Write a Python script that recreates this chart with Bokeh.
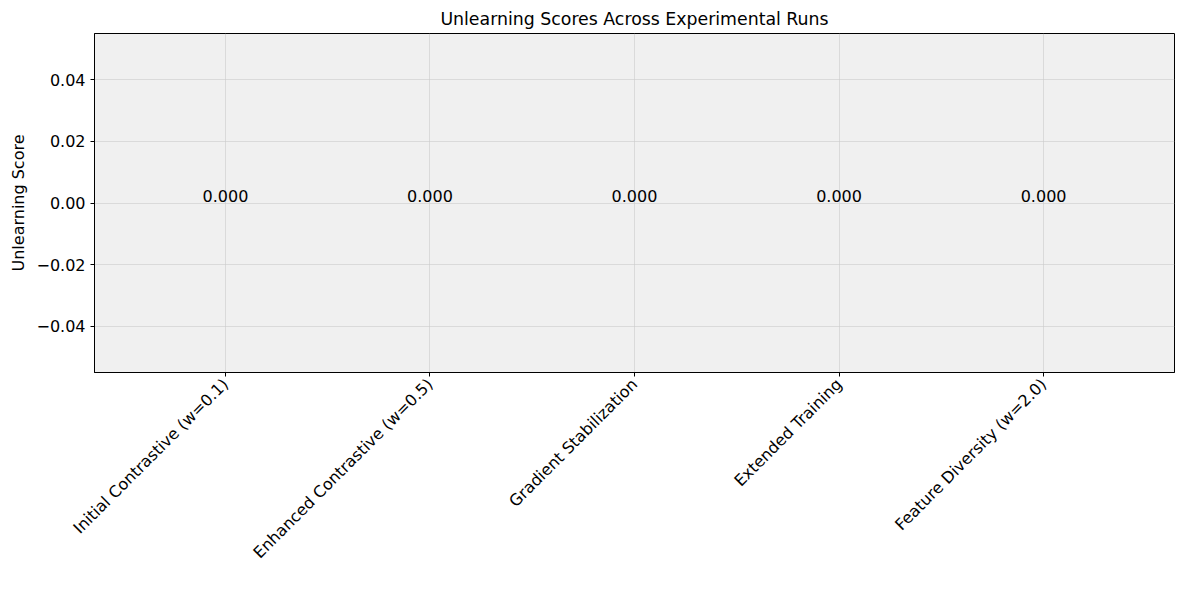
import math
from bokeh.plotting import figure
from bokeh.models import Range1d, FixedTicker, ColumnDataSource
from bokeh.core.properties import value
from bokeh.embed import file_html
from bokeh.resources import INLINE

categories = ["Initial Contrastive (w=0.1)", "Enhanced Contrastive (w=0.5)",
              "Gradient Stabilization", "Extended Training", "Feature Diversity (w=2.0)"]
scores = [0.0, 0.0, 0.0, 0.0, 0.0]
yticks = [-0.04, -0.02, 0.0, 0.02, 0.04]

xs = list(range(len(categories)))
src = ColumnDataSource(dict(x=xs, top=scores, lab=[f"{v:.3f}" for v in scores]))

p = figure(frame_width=1080, frame_height=339, output_backend="svg", toolbar_location=None,
           x_range=Range1d(-0.64, 4.64), y_range=Range1d(-0.055, 0.055),
           min_border_left=94, min_border_right=10, min_border_top=33, min_border_bottom=200)
p.title.text = "Unlearning Scores Across Experimental Runs"
p.title.align = "center"
p.title.text_font = "DejaVu Sans"
p.title.text_font_size = "13pt"
p.title.text_font_style = "normal"
p.title.text_color = "black"
p.background_fill_color = "#f0f0f0"
p.outline_line_color = "black"

p.vbar(x="x", top="top", bottom=0, width=0.8, source=src, fill_color="#4c72b0", line_color=None)
p.text(x="x", y="top", text="lab", source=src, text_align="center", text_baseline="bottom",
       y_offset=-1, text_font_size="12pt", text_font=value("DejaVu Sans"), text_color="black")

p.xaxis.ticker = FixedTicker(ticks=xs)
p.xaxis.major_label_overrides = {i: c for i, c in enumerate(categories)}
p.xaxis.major_label_orientation = math.pi / 4
p.yaxis.ticker = FixedTicker(ticks=yticks)
p.yaxis.major_label_overrides = {t: (f"{t:.2f}".replace("-", "\u2212")) for t in yticks}
p.yaxis.axis_label = "Unlearning Score"
for ax in (p.xaxis, p.yaxis):
    ax.major_label_text_font = "DejaVu Sans"
    ax.major_label_text_font_size = "12pt"
    ax.major_label_text_color = "black"
    ax.axis_label_text_font = "DejaVu Sans"
    ax.axis_label_text_font_size = "12pt"
    ax.axis_label_text_font_style = "normal"
    ax.axis_label_text_color = "black"
    ax.minor_tick_line_color = None
    ax.major_tick_out = 4
    ax.major_tick_in = 0
    ax.axis_line_color = "black"
p.xgrid.grid_line_color = "#cccccc"
p.ygrid.grid_line_color = "#cccccc"
p.grid.grid_line_alpha = 0.6

open("out.html", "w").write(file_html(p, INLINE))
